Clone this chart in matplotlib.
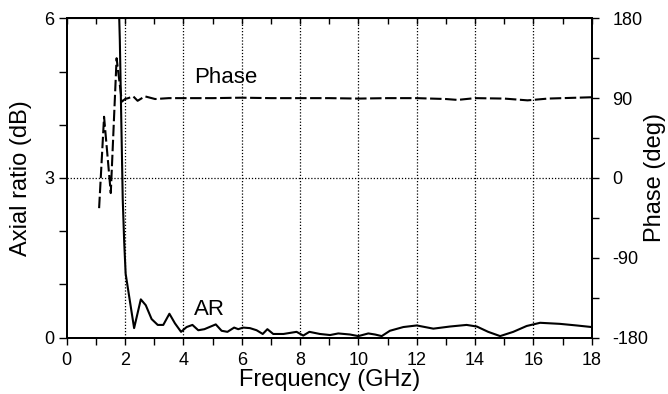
import numpy as np
import matplotlib
matplotlib.use("Agg")
import matplotlib.pyplot as plt
from matplotlib.ticker import MultipleLocator

plt.rcParams['font.family'] = ['Liberation Sans', 'DejaVu Sans']
plt.rcParams['axes.unicode_minus'] = False

# axial ratio (dB) vs frequency (GHz)
ar_freq = [1.0, 1.5, 1.75, 1.82, 1.92, 1.97, 2.02, 2.31, 2.54, 2.71, 2.91, 3.12, 3.31,
           3.52, 3.71, 3.92, 4.11, 4.31, 4.51, 4.72, 5.11, 5.31, 5.51, 5.74, 5.88,
           6.05, 6.28, 6.51, 6.72, 6.88, 7.08, 7.43, 7.88, 8.11, 8.32, 8.68, 9.03,
           9.31, 9.71, 10.0, 10.34, 10.57, 10.8, 11.08, 11.54, 12.0, 12.57, 13.14,
           13.71, 14.06, 14.45, 14.86, 15.31, 15.77, 16.23, 16.91, 17.48, 18.0]
ar_db = [12.0, 11.0, 7.0, 5.6, 2.6, 1.8, 1.2, 0.18, 0.72, 0.61, 0.35, 0.24, 0.24,
         0.45, 0.27, 0.11, 0.20, 0.24, 0.14, 0.16, 0.25, 0.13, 0.11, 0.19, 0.16,
         0.19, 0.18, 0.14, 0.07, 0.16, 0.07, 0.07, 0.11, 0.04, 0.11, 0.07, 0.05,
         0.08, 0.06, 0.03, 0.08, 0.06, 0.03, 0.13, 0.20, 0.23, 0.17, 0.21,
         0.24, 0.21, 0.11, 0.03, 0.11, 0.22, 0.28, 0.26, 0.23, 0.20]

# phase (deg) vs frequency (GHz)
ph_freq = [1.11, 1.28, 1.51, 1.71, 1.89, 2.0, 2.11, 2.28, 2.43, 2.68, 3.03, 3.5, 4.0,
           5.0, 6.0, 7.0, 8.0, 9.0, 10.0, 11.0, 12.0, 13.0, 13.4, 14.0, 15.0, 15.8,
           16.5, 17.0, 18.0]
ph_deg = [-34, 69, -17, 135, 86, 89, 90, 92, 87, 92, 89, 90, 90,
          90, 90.5, 90, 90, 90, 89.5, 90, 90, 89, 88, 90, 89.5, 87.5,
          89.5, 90, 91]

fig, ax = plt.subplots(figsize=(6.68, 3.94), dpi=100)
fig.subplots_adjust(left=0.0999, right=0.8858, bottom=0.1429, top=0.9536)

ax.plot(ar_freq, ar_db, color='black', lw=1.5, zorder=3)
ax.set_xlim(0, 18)
ax.set_ylim(0, 6)
ax.xaxis.set_major_locator(MultipleLocator(2))
ax.xaxis.set_minor_locator(MultipleLocator(1))
ax.yaxis.set_major_locator(MultipleLocator(3))
ax.yaxis.set_minor_locator(MultipleLocator(1))
ax.tick_params(axis='x', which='both', direction='out', length=5, width=1,
               labelsize=13, pad=5.5, top=False)
ax.tick_params(axis='y', which='both', direction='out', length=6, width=1,
               labelsize=13, pad=3, right=False)
for s in ax.spines.values():
    s.set_linewidth(1.4)

# dotted grid
for f in range(2, 18, 2):
    ax.axvline(f, color='black', ls=(0, (1, 1.5)), lw=0.9, zorder=1)
ax.axhline(3, color='black', ls=(0, (1, 1.5)), lw=0.9, zorder=1)

ax.set_xlabel('Frequency (GHz)', fontsize=17)
ax.xaxis.set_label_coords(0.5, -0.097)
ax.set_ylabel('Axial ratio (dB)', fontsize=17)
ax.yaxis.set_label_coords(-0.066, 0.5)

# top ticks pointing inward
top = ax.secondary_xaxis('top')
top.xaxis.set_major_locator(MultipleLocator(1))
top.tick_params(direction='in', length=4, width=1, labeltop=False)

ax2 = ax.twinx()
ax2.plot(ph_freq, ph_deg, color='black', lw=1.5, dashes=(5.5, 1.7), zorder=3)
ax2.set_ylim(-180, 180)
ax2.yaxis.set_major_locator(MultipleLocator(90))
ax2.yaxis.set_minor_locator(MultipleLocator(45))
ax2.tick_params(axis='y', which='both', direction='out', length=5, width=1,
                labelsize=13, pad=10)
for s in ax2.spines.values():
    s.set_linewidth(1.4)
ax2.set_ylabel('Phase (deg)', fontsize=17)
ax2.yaxis.set_label_coords(1.1, 0.5)

ax.text(5.46, 4.88, 'Phase', fontsize=16, ha='center', va='center')
ax.text(4.88, 0.53, 'AR', fontsize=16, ha='center', va='center')

fig.savefig('out.png', dpi=100)
